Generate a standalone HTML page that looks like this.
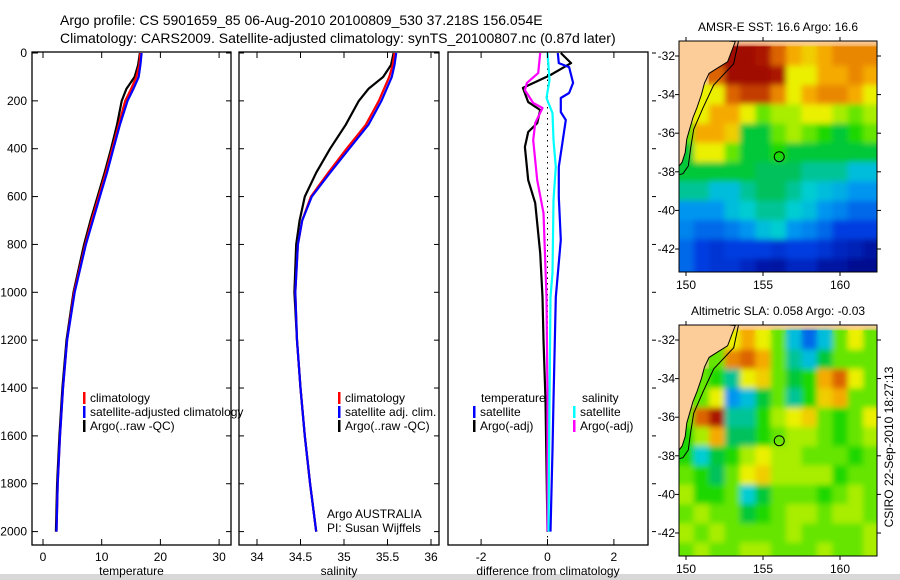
<!DOCTYPE html>
<html><head><meta charset="utf-8"><style>
body{margin:0;background:#fff;}
svg{display:block;font-family:"Liberation Sans",sans-serif;}
text{font-size:12px;fill:#000;}
</style></head><body>
<svg id="c" width="900" height="580" viewBox="0 0 900 580">
<rect x="0" y="0" width="900" height="580" fill="#fff"/>
<rect x="0" y="574" width="900" height="6" fill="#d8d8d8"/>
<text x="60" y="25" style="font-size:14px">Argo profile: CS 5901659_85 06-Aug-2010 20100809_530 37.218S 156.054E</text>
<text x="60" y="43" style="font-size:14px">Climatology: CARS2009. Satellite-adjusted climatology: synTS_20100807.nc (0.87d later)</text>
<defs>
<clipPath id="cp1"><rect x="32" y="52" width="199" height="493"/></clipPath>
<clipPath id="cp2"><rect x="239" y="52" width="200" height="493"/></clipPath>
<clipPath id="cp3"><rect x="448" y="52" width="200" height="493"/></clipPath>
<clipPath id="cm1"><rect x="679" y="41" width="198" height="231"/></clipPath>
<clipPath id="cm2"><rect x="679" y="325" width="198" height="231"/></clipPath>
<filter id="blur" x="-5%" y="-5%" width="110%" height="110%"><feGaussianBlur stdDeviation="3"/></filter>
</defs>
<g id="layer"></g>
</svg>
<script>
// ---------- profile data ----------
const depths = [0,50,100,150,200,300,400,500,600,700,800,1000,1200,1400,1600,1800,2000];
const tempClim = [16.6,16.4,15.9,15.0,14.0,12.9,11.8,10.7,9.5,8.3,7.2,5.3,4.1,3.4,2.9,2.5,2.3];
const tempSat  = [16.8,16.6,16.3,15.4,14.4,13.1,12.0,10.9,9.7,8.5,7.3,5.4,4.1,3.4,2.9,2.5,2.3];
const tempArgo = [16.5,16.2,15.6,14.2,13.4,12.6,11.6,10.5,9.3,8.1,7.0,5.2,4.0,3.3,2.8,2.4,2.2];
const salClim = [35.58,35.56,35.52,35.46,35.40,35.25,35.03,34.82,34.62,34.52,34.47,34.44,34.46,34.50,34.55,34.61,34.68];
const salSat  = [35.60,35.58,35.55,35.49,35.43,35.28,35.06,34.84,34.63,34.52,34.47,34.44,34.46,34.50,34.55,34.61,34.68];
const salArgo = [35.57,35.54,35.45,35.28,35.17,35.02,34.84,34.68,34.55,34.49,34.45,34.43,34.46,34.50,34.55,34.61,34.68];
const dTempArgoDepth = [0,42,92,146,205,238,293,330,393,531,627,836,1020,1200,1450,2000];
const dTempArgo = [0.4,0.71,0.09,-0.74,-0.58,-0.22,-0.31,-0.58,-0.68,-0.58,-0.37,-0.22,-0.15,-0.12,-0.06,0];
const dSalArgoDepth = [0,84,125,155,209,230,293,364,531,669,1020,1450,2000];
const dSalArgo = [-0.22,-0.28,-0.62,-0.68,-0.43,-0.15,-0.37,-0.43,-0.31,-0.12,-0.03,0,0];
const dSalSatDepth = [0,113,188,251,364,476,614,919,1020,1450,2000];
const dSalSat = [0,0.06,-0.03,0.15,0.18,0.25,0.18,0.15,0.09,0.06,0.03];
const dTempSatDepth = [0,42,59,125,167,188,247,280,364,476,602,781,1020,1450,1659,2000];
const dTempSat = [0.31,0.34,0.65,0.77,0.65,0.4,0.4,0.55,0.46,0.34,0.34,0.4,0.25,0.18,0.15,0.09];
const depthTicks = [0,200,400,600,800,1000,1200,1400,1600,1800,2000];
const tempTicks = [0,10,20,30];
const salTicks = [34,34.5,35,35.5,36];
const salTickLabels = ["34","34.5","35","35.5","36"];
const diffTicks = [-2,0,2];
// ---------- map data (1-degree cells, lon 150..162, lat -32..-43), -1 = land ----------
const mapLons = [150,151,152,153,154,155,156,157,158,159,160,161,162];
const mapLats = [-32,-33,-34,-35,-36,-37,-38,-39,-40,-41,-42,-43];
const sstGrid = [
[-1,-1,9.5,9.5,9.5,9,8,7,6.5,7,7.5,7.5,7.5],
[-1,-1,8,9.5,9.5,9.5,9,6,6,7,7,7.5,7],
[-1,6,6,8,8.5,8.5,7.5,6,7,7.5,7.5,7,6],
[-1,6,7,7,6,5,5.5,5.5,6,6,5.5,5,5.5],
[5,7,7,6.5,4,4,5,5.5,5,4.5,4,4.5,5],
[4,6,6,5,4,4,4.5,4,4,4,4,4,4],
[4,4,4,4,4,3.8,3.8,3.8,3.5,3.5,3.5,3,3],
[3.5,3.5,3,3,3.5,3.8,3.8,3.5,3.2,3,2.8,2.5,2.5],
[2.5,2.5,2.5,3,3.2,3.5,3.5,3.2,3,2.5,2.3,2,2],
[2.3,2,2,2.2,2.5,3,3.2,2.5,2.3,2,1.5,1.5,1.5],
[2,1.5,1.3,1.5,1.5,1.5,1.3,1.5,1.5,1.3,1,0.8,0.5],
[2,1.5,1.3,1.3,1,0.6,0.5,1,1,0.5,0.5,0.2,0.2]];
const slaGrid = [
[-1,-1,5,6,7,6,5,3,2,3,5,6,5],
[-1,-1,5,7.5,8,7,5,3.5,3,4,5,5,5],
[-1,5,4.5,3.5,6,6.5,5,4,4.5,7,8,6,5],
[-1,5,6,2.5,3,4,5,3.5,4.5,6.5,7,5,5],
[5,8,9,3.5,3.5,4.5,5.5,6,6.5,5,4.5,5,6],
[4.5,5.5,7,3.8,3.8,4.5,5,5.5,5.5,5,4.5,5,5.5],
[4.5,3.2,4,4.5,5.5,6,5.5,5.5,5,5,5,4.5,5],
[5,4.5,3.8,5,6,6.5,5.5,5.5,5.5,5.5,4.5,5,5],
[5.5,4.5,4.5,5,3.2,4,5,5,5,4.5,5,5.5,5],
[5,5.5,5,5,4,4.5,5,5.5,5.5,5,5.5,5.5,5],
[5.5,5,5.5,5,5,5,5,5.5,5,5,5,5,5.5],
[5,5.5,5,5,5.5,5.5,5,5,5,5.5,5,5,5.5]];
const coastLon = [153.2,152.7,152.1,151.5,151.2,151.0,150.7,150.45,150.05,149.95,149.75,149.55];
const coastLat = [-31.25,-32.3,-32.6,-32.9,-33.4,-34.0,-34.7,-35.2,-36.3,-37.0,-37.5,-37.7];
const isoLon = [153.4,153.1,151.8,151.1,150.5,150.3,150.15,149.8,149.55];
const isoLat = [-31.25,-32.4,-33.5,-34.7,-35.8,-36.8,-37.7,-38.1,-38.15];
const argoLon = 156.054, argoLat = -37.218;
const mapXTicks = [150,155,160];
const mapYTicks = [-32,-34,-36,-38,-40,-42];

const NS='http://www.w3.org/2000/svg';
const layer=document.getElementById('layer');
function mk(tag,attrs,parent){const e=document.createElementNS(NS,tag);for(const k in attrs)e.setAttribute(k,attrs[k]);(parent||layer).appendChild(e);return e;}
function txt(x,y,s,anchor,parent,extra){const t=mk('text',Object.assign({x:x,y:y,'text-anchor':anchor||'start'},extra||{}),parent);t.textContent=s;return t;}

const yD = d => 53 + d*0.2393;
const xT = v => 43 + v*5.87;
const xS = v => 257 + (v-34)*87;
const xDf = v => 547.5 + v*33.2;

function panel(x0,w,name,clip){
  const g=mk('g',{});
  
  
  const r=mk('rect',{x:x0,y:52,width:w,height:493,fill:'none',stroke:'#000','stroke-width':1.3},g);
  
  
  const pg=mk('g',{'clip-path':'url(#'+clip+')'},g);
  return {g,pg,x0,w};
}
function line(pg,xs,ds,xf,color,name,width){
  const pts=xs.map((v,i)=>xf(v).toFixed(1)+','+yD(ds[i]).toFixed(1)).join(' ');
  const p=mk('polyline',{points:pts,fill:'none',stroke:color,'stroke-width':width||2.2,'stroke-linejoin':'round'},pg);
  
  
}
function xAxis(P,ticks,labels,xf,title){
  ticks.forEach((t,i)=>{
    const x=xf(t);
    mk('line',{x1:x,y1:545,x2:x,y2:539,stroke:'#000'},P.g);
    mk('line',{x1:x,y1:52,x2:x,y2:58,stroke:'#000'},P.g);
    const tl=txt(x,561,labels[i],'middle',P.g);
    
    
  });
  const tt=txt(P.x0+P.w/2,575,title,'middle',P.g);
  
  
}
function depthTickMarks(P,outsideRight){
  depthTicks.forEach(d=>{
    const y=yD(d);
    if(outsideRight) mk('line',{x1:P.x0+P.w+4,y1:y,x2:P.x0+P.w+8,y2:y,stroke:'#000'},P.g);
    else mk('line',{x1:P.x0+P.w,y1:y,x2:P.x0+P.w-5,y2:y,stroke:'#000'},P.g);
  });
}

// Panel 1: temperature
const P1=panel(32,199,'temperature-panel','cp1');
depthTicks.forEach(d=>{
  const y=yD(d);
  mk('line',{x1:32,y1:y,x2:38,y2:y,stroke:'#000'},P1.g);
  const t=txt(27,y+4,String(d),'end',P1.g);
  
  
});
depthTickMarks(P1,false);
xAxis(P1,tempTicks,tempTicks.map(String),xT,'temperature');
line(P1.pg,tempArgo,depths,xT,'#000','temp-argo-line');
line(P1.pg,tempClim,depths,xT,'#f00','temp-climatology-line');
line(P1.pg,tempSat,depths,xT,'#00f','temp-satellite-line');

// Panel 2: salinity
const P2=panel(239,200,'salinity-panel','cp2');
depthTickMarks(P2,false);
depthTicks.forEach(d=>{const y=yD(d);mk('line',{x1:239,y1:y,x2:244,y2:y,stroke:'#000'},P2.g);});
xAxis(P2,salTicks,salTickLabels,xS,'salinity');
line(P2.pg,salArgo,depths,xS,'#000','sal-argo-line');
line(P2.pg,salClim,depths,xS,'#f00','sal-climatology-line');
line(P2.pg,salSat,depths,xS,'#00f','sal-satellite-line');

// Panel 3: differences
const P3=panel(448,200,'difference-panel','cp3');
depthTickMarks(P3,true);
xAxis(P3,diffTicks,diffTicks.map(String),xDf,'difference from climatology');
const zl=mk('line',{x1:xDf(0),y1:52,x2:xDf(0),y2:545,stroke:'#000','stroke-dasharray':'1.5,4'},P3.pg);


line(P3.pg,dTempArgo,dTempArgoDepth,xDf,'#000','diff-temp-argo-line');
line(P3.pg,dSalArgo,dSalArgoDepth,xDf,'#f0f','diff-sal-argo-line');
line(P3.pg,dSalSat,dSalSatDepth,xDf,'#0ff','diff-sal-satellite-line');
line(P3.pg,dTempSat,dTempSatDepth,xDf,'#00f','diff-temp-satellite-line');

// Legends
function legItem(parent,x,y,color,label,name){
  const g=mk('g',{},parent);
  
  
  mk('rect',{x:x,y:y-10,width:2.5,height:12,fill:color},g);
  txt(x+7,y,label,'start',g);
}
const L1=mk('g',{});
legItem(L1,83,402,'#f00','climatology','legend-entry-climatology');
legItem(L1,83,416,'#00f','satellite-adjusted climatology','legend-entry-satellite');
legItem(L1,83,430,'#000','Argo(..raw -QC)','legend-entry-argo');
const L2=mk('g',{});
legItem(L2,338,402,'#f00','climatology','legend-entry-climatology');
legItem(L2,338,416,'#00f','satellite adj. clim.','legend-entry-satellite');
legItem(L2,338,430,'#000','Argo(..raw -QC)','legend-entry-argo');
const L3=mk('g',{});
txt(481,402,'temperature','start',L3);
txt(582,402,'salinity','start',L3);
legItem(L3,473,416,'#00f','satellite','legend-entry-temp-satellite');
legItem(L3,473,430,'#000','Argo(-adj)','legend-entry-temp-argo');
legItem(L3,573,416,'#0ff','satellite','legend-entry-sal-satellite');
legItem(L3,573,430,'#f0f','Argo(-adj)','legend-entry-sal-argo');
const cr=txt(327,518,'Argo AUSTRALIA','start');


const cr2=txt(327,532,'PI: Susan Wijffels','start');



// ---------- maps ----------
const stops=[[0,[0,0,130]],[1.5,[0,60,225]],[2.5,[0,150,240]],[3.2,[0,205,210]],[3.7,[0,190,110]],[4.3,[0,210,0]],[5.2,[130,235,0]],[6,[235,240,0]],[7,[245,170,0]],[8,[220,100,0]],[9,[170,20,0]],[10,[150,0,0]]];
function cmap(v){
  if(v<=stops[0][0])return 'rgb('+stops[0][1]+')';
  for(let i=1;i<stops.length;i++){if(v<=stops[i][0]){const a=stops[i-1],b=stops[i],f=(v-a[0])/(b[0]-a[0]);return 'rgb('+a[1].map((c,j)=>Math.round(c+(b[1][j]-c)*f)).join(',')+')';}}
  return 'rgb('+stops[stops.length-1][1]+')';
}
const xL = lon => 686 + (lon-150)*15.4;
function drawMap(grid,off,clip,name,title){
  const yL = lat => 56 + off + (-32-lat)*19.3;
  const g=mk('g',{});
  
  
  const pg=mk('g',{'clip-path':'url(#'+clip+')'},g);
  mk('rect',{x:679,y:41+off,width:198,height:231,fill:'#fccc99'},pg);
  const base=mk('g',{},pg);
  const soft=mk('g',{filter:'url(#blur)'},pg);
  grid.forEach((row,ri)=>row.forEach((v,ci)=>{
    if(v<0)return;
    const x0=xL(mapLons[ci]-0.5),y0=yL(mapLats[ri]+0.5);
    const c=mk('rect',{x:x0.toFixed(1),y:y0.toFixed(1),width:15.9,height:19.8,fill:cmap(v)},base);
    
    
    mk('rect',{x:x0.toFixed(1),y:y0.toFixed(1),width:15.9,height:19.8,fill:cmap(v)},soft);
  }));
  // land
  let pts=(xL(149)+','+yL(-31))+' '+coastLon.map((l,i)=>xL(l).toFixed(1)+','+yL(coastLat[i]).toFixed(1)).join(' ')+' '+xL(149)+','+yL(coastLat[coastLat.length-1]);
  const land=mk('polygon',{points:pts,fill:'#fccc99',stroke:'#000','stroke-width':1},pg);
  
  
  const iso=mk('polyline',{points:isoLon.map((l,i)=>xL(l).toFixed(1)+','+yL(isoLat[i]).toFixed(1)).join(' '),fill:'none',stroke:'#000','stroke-width':1},pg);
  
  
  const ci=mk('circle',{cx:xL(argoLon),cy:yL(argoLat),r:5,fill:'none',stroke:'#000','stroke-width':1},g);
  
  
  mk('rect',{x:679,y:41+off,width:198,height:231,fill:'none',stroke:'#000','stroke-width':1},g);
  mapXTicks.forEach(t=>{
    const x=xL(t);
    mk('line',{x1:x,y1:41+off,x2:x,y2:37+off,stroke:'#000'},g);
    mk('line',{x1:x,y1:272+off,x2:x,y2:276+off,stroke:'#000'},g);
    const l=txt(x,289+off,String(t),'middle',g);
    
    
  });
  mapYTicks.forEach(t=>{
    const y=yL(t);
    mk('line',{x1:679,y1:y,x2:675,y2:y,stroke:'#000'},g);
    mk('line',{x1:877,y1:y,x2:881,y2:y,stroke:'#000'},g);
    const l=txt(675,y+4,String(t),'end',g);
    
    
  });
  const tt=txt(778,31+off,title,'middle',g);
  
  
}
drawMap(sstGrid,0,'cm1','sst-map','AMSR-E SST: 16.6 Argo: 16.6');
drawMap(slaGrid,284,'cm2','sla-map','Altimetric SLA: 0.058 Argo: -0.03');
const st=txt(0,0,'CSIRO 22-Sep-2010 18:27:13','middle',null,{transform:'translate(893,447) rotate(-90)'});


</script>
</body></html>
